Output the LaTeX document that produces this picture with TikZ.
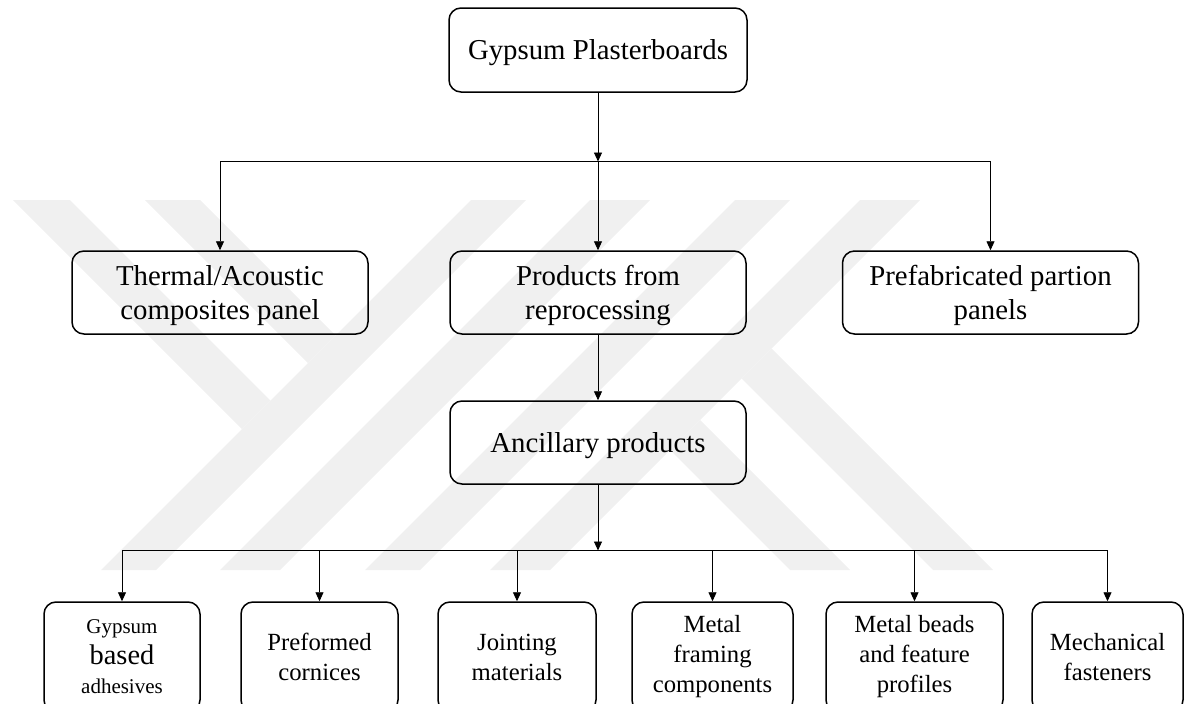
\documentclass[tikz,border=0pt]{standalone}
\usepackage{fontspec}
\setmainfont{Liberation Serif}
\usetikzlibrary{arrows.meta}

\colorlet{mark}{black!6}
\tikzset{
  box/.style={draw, line width=1.5pt, rounded corners=12pt, align=center,
    inner sep=0pt},
  bigbox/.style={box, minimum width=296pt, minimum height=83pt, text depth=0pt,
    font=\fontsize{28.8}{33.5}\selectfont},
  smallbox/.style={box, minimum height=110pt,
    font=\fontsize{24.7}{30}\selectfont},
  link/.style={line width=0.9pt, -{Triangle[length=9pt,width=8pt]}},
  bus/.style={line width=0.9pt},
  band/.style={fill=mark, draw=none}
}

\begin{document}
\begin{tikzpicture}[x=1pt, y=-1pt]
			\useasboundingbox (0,0) rectangle (1189,704);
			\clip (0,0) rectangle (1189,704);
			% faint logo in the back
			\fill[band] (13,200) -- (70,200) -- (270.5,400.5) -- (242,429) -- cycle;
			\fill[band] (145,200) -- (200,200) -- (335.5,335.5) -- (308,363) -- cycle;
			\fill[band] (471,200) -- (526,200) -- (156,570) -- (101,570) -- cycle;
			\fill[band] (590,200) -- (650,200) -- (280,570) -- (220,570) -- cycle;
			\fill[band] (735,200) -- (790,200) -- (420,570) -- (365,570) -- cycle;
			\fill[band] (860,200) -- (920,200) -- (550,570) -- (490,570) -- cycle;
			\fill[band] (771.5,348.5) -- (993,570) -- (933,570) -- (741.5,378.5) -- cycle;
			\fill[band] (700,420) -- (850,570) -- (790,570) -- (670,450) -- cycle;
			% top level
			\node[bigbox, minimum width=298pt, minimum height=84pt] (gp) at (598,50) {Gypsum Plasterboards};
			% second level
			\node[bigbox] (thermal) at (220,292.5) {Thermal/Acoustic\\composites panel};
			\node[bigbox] (reproc) at (598,292.5) {Products from\\reprocessing};
			\node[bigbox] (prefab) at (990.5,292.5) {Prefabricated partion\\panels};
			\node[bigbox] (ancil) at (598,442.5) {Ancillary products};
			% bottom level
			\node[smallbox, minimum width=156pt] (adhes) at (122,657)
				{{\fontsize{21}{25}\selectfont Gypsum}\\[1pt]{\fontsize{28.4}{30}\selectfont based}\\[-1pt]{\fontsize{21}{25}\selectfont adhesives}};
			\node[smallbox, minimum width=157pt] (cornice) at (319.5,657) {Preformed\\cornices};
			\node[smallbox, minimum width=158pt] (joint) at (517,657) {Jointing\\materials};
			\node[smallbox, minimum width=161pt] (frame) at (712.5,657) {Metal\\framing\\components};
			\node[smallbox, minimum width=177pt] (beads) at (914.5,657) {Metal beads\\and feature\\profiles};
			\node[smallbox, minimum width=151pt] (fasten) at (1107.5,657) {Mechanical\\fasteners};
			% connectors
			\coordinate (bus1) at (598,161.5);
			\coordinate (bus2) at (598,550.5);
			\draw[link] (gp) -- (bus1);
			\draw[bus] (thermal.north |- bus1) -- (prefab.north |- bus1);
			\foreach \n in {thermal,reproc,prefab}
			\draw[link] (\n.north |- bus1) -- (\n.north);
			\draw[link] (reproc) -- (ancil);
			\draw[link] (ancil) -- (bus2);
			\draw[bus] (adhes.north |- bus2) -- (fasten.north |- bus2);
			\foreach \n in {adhes,cornice,joint,frame,beads,fasten}
			\draw[link] (\n.north |- bus2) -- (\n.north);
		\end{tikzpicture}
\end{document}
